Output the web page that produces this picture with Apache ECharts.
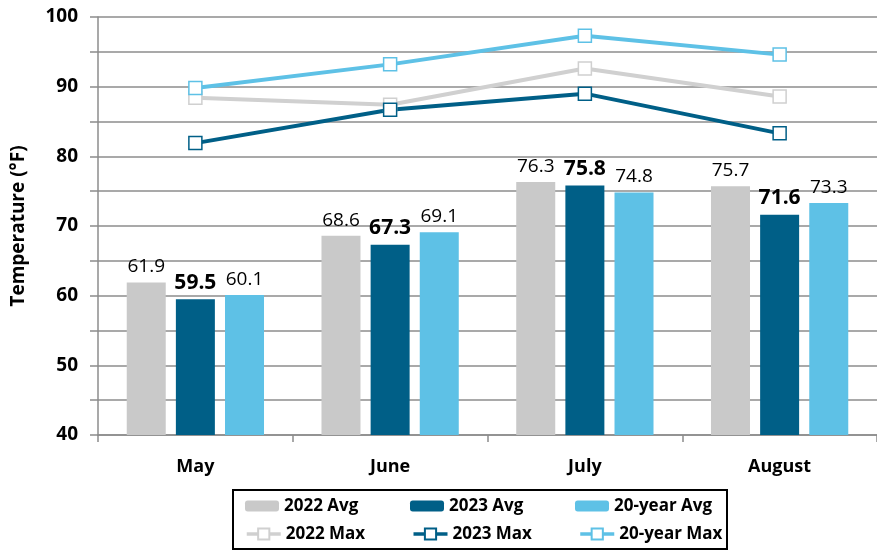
<!DOCTYPE html>
<html>
<head>
<meta charset="utf-8">
<script src="https://cdn.jsdelivr.net/npm/echarts@6/dist/echarts.min.js"></script>
<style>
  html, body { margin: 0; padding: 0; background: #fff; }
  #chart { width: 877px; height: 552px; }
</style>
</head>
<body>
<div id="chart"></div>
<script>
const months = ['May', 'June', 'July', 'August'];
const avg2022 = [61.9, 68.6, 76.3, 75.7];
const avg2023 = [59.5, 67.3, 75.8, 71.6];
const avg20yr = [60.1, 69.1, 74.8, 73.3];
const max2022 = [88.4, 87.4, 92.6, 88.6];
const max2023 = [81.9, 86.7, 89.0, 83.3];
const max20yr = [89.8, 93.2, 97.3, 94.6];
const yTicks = [40, 50, 60, 70, 80, 90, 100];

const FONT = 'Open Sans';
const GRAY = '#c9c9c9';
const NAVY = '#005f87';
const SKY = '#5ec1e6';
const GRID = '#8c8c8c';

const chart = echarts.init(document.getElementById('chart'));

function barSeries(name, data, color, bold) {
  return {
    name, type: 'bar', data,
    barWidth: 39,
    barGap: '26%',
    itemStyle: { color },
    label: {
      show: true,
      position: 'top',
      distance: 6,
      color: '#000',
      fontFamily: FONT,
      fontSize: bold ? 21 : 19,
      fontWeight: bold ? 'bold' : 500,
      formatter: (p) => p.value.toFixed(1),
    },
  };
}

function lineSeries(name, data, color) {
  return {
    name, type: 'line', data,
    symbol: 'rect',
    symbolSize: 13,
    lineStyle: { color, width: 4 },
    itemStyle: { color: '#fff', borderColor: color, borderWidth: 1.5 },
    z: 5,
  };
}

const legendText = { fontFamily: FONT, fontSize: 17, fontWeight: 'bold', color: '#000', width: 116, lineHeight: 20 };

chart.setOption({
  animation: false,
  grid: { left: 98, right: -1, top: 17, bottom: 117 },
  legend: [
    {
      data: ['2022 Avg', '2023 Avg', '20-year Avg'],
      left: 245, top: 496, padding: 0,
      itemWidth: 34, itemHeight: 11, itemGap: 10, itemTextGap: 5,
      textStyle: legendText,
    },
    {
      data: ['2022 Max', '2023 Max', '20-year Max'],
      left: 245, top: 524, padding: 0,
      itemWidth: 34, itemHeight: 14, itemGap: 10, itemTextGap: 5,
      lineStyle: { width: 3.5 },
      textStyle: legendText,
    },
  ],
  graphic: [{
    type: 'rect',
    shape: { x: 233, y: 490, width: 494, height: 59 },
    style: { fill: 'none', stroke: '#000', lineWidth: 2 },
  }],
  xAxis: {
    type: 'category',
    data: months,
    axisLine: { lineStyle: { color: GRID, width: 1.5 } },
    axisTick: { show: true, length: 7, lineStyle: { color: GRID, width: 1.5 } },
    axisLabel: { fontFamily: FONT, fontSize: 18, fontWeight: 'bold', color: '#000', margin: 23 },
  },
  yAxis: {
    type: 'value',
    min: yTicks[0],
    max: yTicks[yTicks.length - 1],
    interval: 5,
    name: 'Temperature (°F)',
    nameLocation: 'middle',
    nameGap: 70,
    nameTextStyle: { fontFamily: FONT, fontSize: 19, fontWeight: 'bold', color: '#000' },
    axisLine: { show: true, lineStyle: { color: GRID, width: 1.5 } },
    axisTick: { show: true, length: 8, lineStyle: { color: GRID, width: 1.5 } },
    axisLabel: {
      fontFamily: FONT, fontSize: 19, fontWeight: 'bold', color: '#000', margin: 20,
      formatter: (v) => (yTicks.includes(v) ? String(v) : ''),
    },
    splitLine: { lineStyle: { color: GRID, width: 1.5 } },
  },
  series: [
    barSeries('2022 Avg', avg2022, GRAY, false),
    barSeries('2023 Avg', avg2023, NAVY, true),
    barSeries('20-year Avg', avg20yr, SKY, false),
    lineSeries('2022 Max', max2022, '#d0d0d0'),
    lineSeries('2023 Max', max2023, NAVY),
    lineSeries('20-year Max', max20yr, SKY),
  ],
});
</script>
</body>
</html>
